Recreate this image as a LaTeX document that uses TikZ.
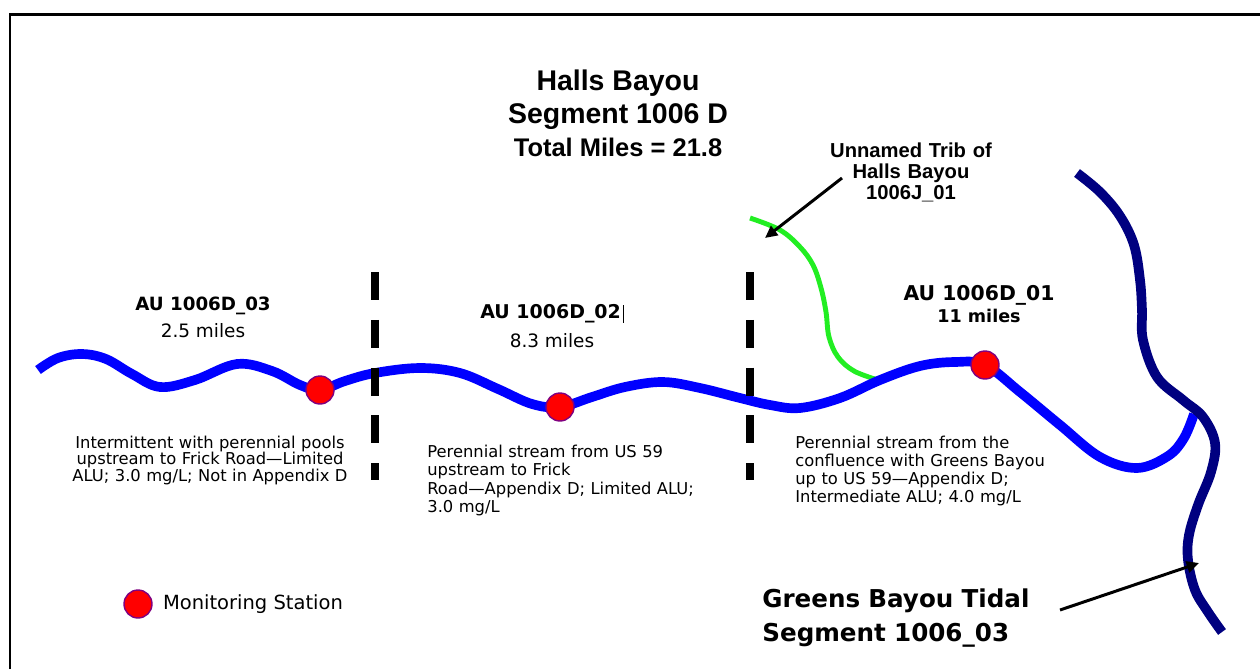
\documentclass[tikz,border=0pt]{standalone}
\usepackage{fontspec}
\setmainfont{DejaVu Sans}
\newfontfamily\arialfont{Liberation Sans}
\usetikzlibrary{arrows.meta,positioning}
\usepackage{xcolor}
\definecolor{rblue}{HTML}{0000FF}
\definecolor{rnavy}{HTML}{000080}
\definecolor{rgreen}{HTML}{22EE22}
\definecolor{rred}{HTML}{FF0000}
\definecolor{rpurple}{HTML}{800080}
\tikzstyle{river}=[rblue, line width=5.5pt, line join=round]
\tikzstyle{tidal}=[rnavy, line width=5.5pt, line join=round]
\tikzstyle{trib}=[rgreen, line width=2.8pt]
\tikzstyle{cut}=[black, line width=5pt, dash pattern=on 15.9pt off 11.3pt]
\tikzstyle{frame}=[black, line width=1.7pt]
\tikzstyle{station}=[circle, draw=rpurple, fill=rred, line width=0.8pt, minimum size=0.56cm, inner sep=0pt]
\tikzstyle{l1}=[line width=1.7pt, -{Triangle[length=7pt,width=6.5pt]}]
\tikzstyle{ttl}=[inner sep=0pt, font=\arialfont\bfseries\fontsize{16.2}{19}\selectfont]
\tikzstyle{trl}=[inner sep=0pt, text width=4cm, align=center, font=\arialfont\bfseries\fontsize{11.5}{12.2}\selectfont]
\tikzstyle{au}=[inner sep=0pt, font=\bfseries\fontsize{10.4}{12}\selectfont]
\tikzstyle{mi}=[inner sep=0pt, font=\fontsize{10.5}{12}\selectfont]
\tikzstyle{desc}=[inner sep=0pt, text width=6cm, font=\fontsize{9.3}{10.5}\selectfont]
\tikzstyle{grn}=[inner sep=0pt, text width=7cm, align=left, font=\bfseries\fontsize{14}{19.8}\selectfont]

\begin{document}
\begin{tikzpicture}[x=0.02cm, y=-0.02cm]
    \useasboundingbox (0,0) rectangle (1260,669);
    \draw[frame] (10,669) -- (10,14.5) -- (1260,14.5);

    % title
    \node[ttl, anchor=base] (hb) at (618,91) {Halls Bayou};
    \node[ttl] (seg) [below = 0.66cm of hb.base, anchor=base] {Segment 1006 D};
    \node[ttl, font=\arialfont\bfseries\fontsize{14.5}{17}\selectfont] (tot) [below = 0.66cm of seg.base, anchor=base] {Total Miles = 21.8};

    % streams
    \draw[trib] plot[smooth, tension=0.6] coordinates {(750,218) (780,230) (800,247) (813,265) (821,288) (826,312) (829,337) (838,357) (854,371) (878,380)};
    \draw[river] plot[smooth, tension=0.6] coordinates {(38,370) (58,358) (82,354) (106,359) (132,374) (160,387) (195,380) (237,364) (272,371) (300,385) (320,390) (345,381) (375,373) (420,368) (460,373) (498,389) (532,404) (560,407) (592,397) (625,387) (663,382) (700,388) (740,398) (770,405) (800,408) (840,398) (880,380) (920,366) (955,362) (985,365) (1020,392) (1060,425) (1100,457) (1137,468) (1168,456) (1184,438) (1194,414)};
    \draw[tidal] plot[smooth, tension=0.6] coordinates {(1077,173) (1100,192) (1120,216) (1134,245) (1140,280) (1142,310) (1143,340) (1157,377) (1183,400) (1203,417) (1215,443) (1211,472) (1198,505) (1189,535) (1188,560) (1195,590) (1208,612) (1222,632)};

    % AU limits
    \foreach \x in {375,750}{
        \coordinate (cut\x a) at (\x,272);
        \coordinate (cut\x b) at (\x,480);
        \draw[cut] (cut\x a) -- (cut\x b);
    }

    % monitoring stations
    \node[station] (st3) at (320,390) {};
    \node[station] (st2) at (560,407) {};
    \node[station] (st1) at (985,365) {};

    % assessment units
    \node[au, anchor=base] (au3) at (203,310) {AU 1006D\_03};
    \node[mi] (mi3) [below = 0.56cm of au3.base, anchor=base] {2.5 miles};
    \node[au, font=\bfseries\fontsize{10.8}{12}\selectfont, anchor=base] (au2) at (552,318) {AU 1006D\_02\hspace{1pt}\rule[-2.8pt]{0.6pt}{10.2pt}};
    \node[mi] (mi2) [below = 0.6cm of au2.base, anchor=base] {8.3 miles};
    \node[au, font=\bfseries\fontsize{11.6}{13}\selectfont, anchor=base] (au1) at (979,300) {AU 1006D\_01};
    \node[au, font=\bfseries\fontsize{10}{12}\selectfont] (mi1) [below = 0.46cm of au1.base, anchor=base] {11 miles};

    \node[desc, align=center, font=\fontsize{9.3}{9.6}\selectfont, anchor=base] (d3) at (210,448) {Intermittent with perennial pools\\upstream to Frick Road—Limited\\ALU; 3.0 mg/L; Not in Appendix D};
    \node[desc, align=left, font=\fontsize{9.3}{10.6}\selectfont, anchor=base west] (d2) at (427,457) {Perennial stream from US 59\\upstream to Frick\\Road—Appendix D; Limited ALU;\\3.0 mg/L};
    \node[desc, align=left, font=\fontsize{9.3}{10.4}\selectfont, anchor=base west] (d1) at (795,448) {Perennial stream from the\\confluence with Greens Bayou\\up to US 59—Appendix D;\\Intermediate ALU; 4.0 mg/L};

    % tributary and receiving segment
    \node[trl, anchor=base] (unt) at (911,157) {Unnamed Trib of\\Halls Bayou\\1006J\_01};
    \coordinate (untail) at (842,178); \coordinate (untip) at (765,238);
    \draw[l1] (untail) -- (untip);

    \node[grn, anchor=base west] (gbt) at (762,607) {Greens Bayou Tidal\\Segment 1006\_03};
    \coordinate (gbtail) at (1060,610); \coordinate (gbtip) at (1199,563);
    \draw[l1] (gbtail) -- (gbtip);

    % legend
    \node[station] (legst) at (138,604) {};
    \node[inner sep=0pt, font=\fontsize{11.1}{13}\selectfont] (legtxt) [right = 0.2cm of legst] {Monitoring Station};

\end{tikzpicture}
\end{document}
